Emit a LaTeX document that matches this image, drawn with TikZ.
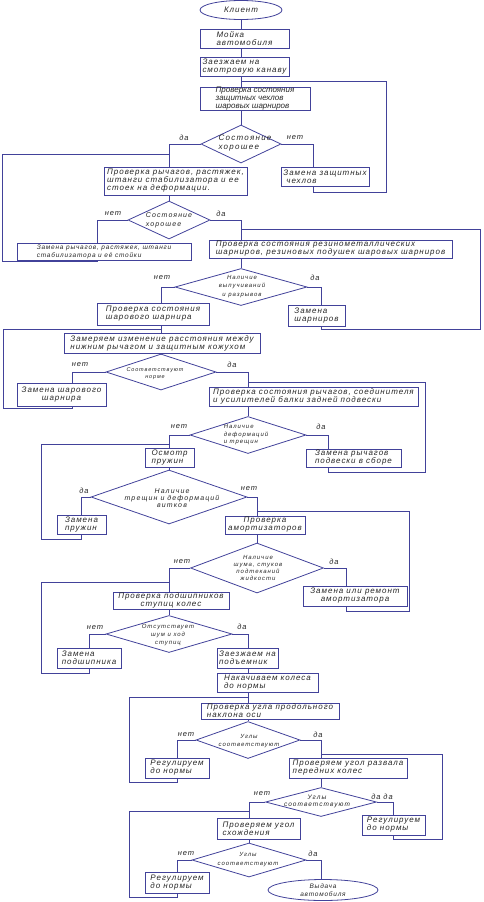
\documentclass[tikz,border=0pt]{standalone}
\usepackage{fontspec}
\setmainfont{Liberation Sans}
\newfontfamily\flowfont{Liberation Sans}[LetterSpace=12]
\newfontfamily\flowfontplain{Liberation Sans}
\newfontfamily\flowfontwide{Liberation Sans}[LetterSpace=16]
\usepackage{tikz}
\usetikzlibrary{shapes.geometric,positioning,calc}
\definecolor{flowblue}{HTML}{42429A}
\definecolor{flowtext}{HTML}{262626}

\begin{document}
\begin{tikzpicture}[x=1pt,y=-1pt,
  link/.style={flowblue, line width=0.8pt},
  boxfont/.style 2 args={font=\flowfont\itshape\fontsize{#1}{#2}\selectfont},
  dfont/.style 2 args={font=\flowfontwide\itshape\fontsize{#1}{#2}\selectfont},
  box/.style={draw=flowblue, line width=0.8pt, rectangle, inner xsep=1pt, inner ysep=0pt,
    text=flowtext, align=left, boxfont={8}{8}},
  decision/.style={draw=flowblue, line width=0.8pt, diamond, inner sep=0pt},
  dtext/.style={text=flowtext, inner sep=0pt, align=center, dfont={6}{7.5}},
  terminal/.style={draw=flowblue, line width=0.8pt, ellipse, inner sep=0pt,
    text=flowtext, align=center, boxfont={8}{8}},
  answer/.style={text=flowtext, inner sep=0pt, boxfont={7.5}{8}}]
\useasboundingbox (0,0) rectangle (483,902);

% Blocks
\node[terminal, minimum width=82, minimum height=19] (client) at (241,10) {Клиент};
\node[box, minimum width=89, minimum height=19] (wash) at (244.5,38.5) {Мойка\\автомобиля};
\node[box, minimum width=89, minimum height=19] (pit) at (244.5,66.5) {Заезжаем на\\смотровую канаву};
\node[box, font=\flowfontplain\itshape\fontsize{8}{7.6}\selectfont, minimum width=110, minimum height=23] (boots) at (255,98.5) {Проверка состояния\\защитных чехлов\\шаровых шарниров};
\node[decision, minimum width=80, minimum height=38] (qboots) at (241,144) {};
\node[dtext, align=left, dfont={8}{9}] (qbootst) at (245,143) {Состояние\\хорошее};
\node[box, minimum width=143, minimum height=28] (levers) at (175.5,181) {Проверка рычагов, растяжек,\\штанги стабилизатора и ее\\стоек на деформации.};
\node[box, minimum width=88, minimum height=19] (newboots) at (325,176.5) {Замена защитных\\\hspace*{3pt}чехлов};
\node[decision, minimum width=82, minimum height=38] (qlevers) at (169,220) {};
\node[dtext, align=left, dfont={7}{9}] (qleverst) at (169,220) {Состояние\\хорошее};
\node[box, boxfont={6.5}{8}, minimum width=174, minimum height=17] (newlevers) at (104,251.5) {Замена рычагов, растяжек, штанги\\стабилизатора и её стойки};
\node[box, minimum width=243, minimum height=18] (rubber) at (330.5,249) {Проверка состояния резинометаллических\\шарниров, резиновых подушек шаровых шарниров};
\node[decision, minimum width=132, minimum height=37] (qrubber) at (241,287) {};
\node[dtext, dfont={6}{8.5}] (qrubbert) at (242,286.5) {Наличие\\выпучиваний\\и разрывов};
\node[box, minimum width=112, minimum height=22] (joint) at (153,314) {Проверка состояния\\шарового шарнира};
\node[box, minimum width=57, minimum height=21] (newrubber) at (316.5,315.5) {Замена\\шарниров};
\node[box, minimum width=196, minimum height=20] (gap) at (162,343) {Замеряем изменение расстояния между\\нижним рычагом и защитным кожухом};
\node[decision, minimum width=110, minimum height=36] (qgap) at (161,372) {};
\node[dtext, dfont={5.5}{7}] (qgapt) at (155,373.5) {Соответствуют\\норме};
\node[box, align=center, minimum width=89, minimum height=23] (newjoint) at (61.5,394.5) {Замена шарового\\шарнира};
\node[box, minimum width=209, minimum height=19] (rear) at (313.5,396.5) {Проверка состояния рычагов, соединителя\\и усилителей балки задней подвески};
\node[decision, minimum width=116, minimum height=37] (qrear) at (248,435) {};
\node[dtext, align=left] (qreart) at (246,435) {Наличие\\деформаций\\и трещин};
\node[box, minimum width=49, minimum height=19] (springs) at (169.5,457.5) {Осмотр\\пружин};
\node[box, minimum width=95, minimum height=18] (newrear) at (353.5,458) {Замена рычагов\\подвески в сборе};
\node[decision, minimum width=156, minimum height=54] (qsprings) at (169,497) {};
\node[dtext, dfont={7}{7}] (qspringst) at (172,498.5) {Наличие\\трещин и деформаций\\витков};
\node[box, minimum width=49, minimum height=19] (newsprings) at (81.5,524.5) {Замена\\пружин};
\node[box, align=center, minimum width=80, minimum height=18] (shocks) at (265,525) {Проверка\\амортизаторов};
\node[decision, minimum width=133, minimum height=50] (qshocks) at (257,568) {};
\node[dtext, dfont={6}{7}] (qshockst) at (258,567.5) {Наличие\\шума, стуков\\подтеканий\\жидкости};
\node[box, align=center, minimum width=116, minimum height=17] (hubs) at (171,600.5) {Проверка подшипников\\ступиц колес};
\node[box, align=center, minimum width=104, minimum height=20] (newshocks) at (355,596) {Замена или ремонт\\амортизатора};
\node[decision, minimum width=126, minimum height=37] (qhubs) at (169,634) {};
\node[dtext, dfont={6}{8}] (qhubst) at (168,635) {Отсутствует\\шум и ход\\ступиц};
\node[box, minimum width=64, minimum height=20] (newbearing) at (89,658) {Замена\\подшипника};
\node[box, minimum width=61, minimum height=20] (lift) at (247.5,658) {Заезжаем на\\подъемник};
\node[box, minimum width=101, minimum height=19] (tyres) at (267.5,682.5) {Накачиваем колеса\\до нормы};
\node[box, minimum width=138, minimum height=16] (caster) at (270,711) {Проверка угла продольного\\наклона оси};
\node[decision, minimum width=104, minimum height=37] (qcaster) at (248,740) {};
\node[dtext, dfont={6}{8}] (qcastert) at (249,741) {Углы\\соответствуют};
\node[box, minimum width=64, minimum height=20] (adjcaster) at (177,768) {Регулируем\\до нормы};
\node[box, minimum width=118, minimum height=20] (camber) at (348,768) {Проверяем угол развала\\передних колес};
\node[decision, minimum width=111, minimum height=29] (qcamber) at (321,802) {};
\node[dtext, dfont={6.5}{7}] (qcambert) at (317,801.5) {Углы\\соответствуют};
\node[box, minimum width=63, minimum height=20] (adjcamber) at (393.5,825) {Регулируем\\до нормы};
\node[box, minimum width=83, minimum height=21] (toe) at (258.5,828.5) {Проверяем угол\\схождения};
\node[decision, minimum width=114, minimum height=34] (qtoe) at (249,860) {};
\node[dtext, dfont={6}{9}] (qtoet) at (248,859.5) {Углы\\соответствуют};
\node[box, minimum width=64, minimum height=21] (adjtoe) at (177,882.5) {Регулируем\\до нормы};
\node[terminal, boxfont={6.5}{8}, minimum width=110, minimum height=21] (release) at (323,890) {Выдача\\автомобиля};

% Answers
\node[answer] (yes1) at (184,138) {да};
\node[answer] (no1) at (295,138) {нет};
\node[answer] (no2) at (113,214) {нет};
\node[answer] (yes2) at (221,214) {да};
\node[answer] (no3) at (162,278) {нет};
\node[answer] (yes3) at (315,278) {да};
\node[answer] (no4) at (80,365) {нет};
\node[answer] (yes4) at (232,365) {да};
\node[answer] (no5) at (179,427) {нет};
\node[answer] (yes5) at (321,427) {да};
\node[answer] (yes6) at (84,491) {да};
\node[answer] (no6) at (249,489) {нет};
\node[answer] (no7) at (182,562) {нет};
\node[answer] (yes7) at (334,562) {да};
\node[answer] (no8) at (95,628) {нет};
\node[answer] (yes8) at (242,627) {да};
\node[answer] (no9) at (186,735) {нет};
\node[answer] (yes9) at (318,735) {да};
\node[answer] (no10) at (262,794) {нет};
\node[answer] (yes10) at (382,797) {да да};
\node[answer] (no11) at (186,854) {нет};
\node[answer] (yes11) at (313,854) {да};

% Loop corners
\coordinate (loopA) at (386,192);  \coordinate (joinA) at (241,81);
\coordinate (loopB) at (2,261);    \coordinate (joinB) at (169,154);
\coordinate (loopC) at (480,329);  \coordinate (joinC) at (241,229);
\coordinate (loopD) at (3,408);    \coordinate (joinD) at (161,329);
\coordinate (loopE) at (425,472);  \coordinate (joinE) at (248,382);
\coordinate (loopF) at (41,539);   \coordinate (joinF) at (169,444);
\coordinate (loopG) at (409,611);  \coordinate (joinG) at (257,511);
\coordinate (loopH) at (41,673);   \coordinate (joinH) at (169,582);
\coordinate (loopI) at (129,782);  \coordinate (joinI) at (248,697);
\coordinate (loopJ) at (442,839);  \coordinate (joinJ) at (321,754);
\coordinate (loopK) at (129,897);  \coordinate (joinK) at (249,811);

% Main line
\draw[link] (client.south) -- (client.south |- wash.north);
\draw[link] (wash.south -| client) -- (pit.north -| client);
\draw[link] (pit.south -| client) -- (boots.north -| client);
\draw[link] (boots.south -| qboots) -- (qboots.north);
\draw[link] (levers.south -| qlevers) -- (qlevers.north);
\draw[link] (rubber.south -| qrubber) -- (qrubber.north);
\draw[link] (joint.south -| qgap) -- (gap.north -| qgap);
\draw[link] (gap.south -| qgap) -- (qgap.north);
\draw[link] (rear.south -| qrear) -- (qrear.north);
\draw[link] (springs.south -| qsprings) -- (qsprings.north);
\draw[link] (shocks.south -| qshocks) -- (qshocks.north);
\draw[link] (hubs.south -| qhubs) -- (qhubs.north);
\draw[link] (lift.south -| qcaster) -- (tyres.north -| qcaster);
\draw[link] (tyres.south -| qcaster) -- (caster.north -| qcaster);
\draw[link] (caster.south -| qcaster) -- (qcaster.north);
\draw[link] (camber.south -| qcamber) -- (qcamber.north);
\draw[link] (toe.south -| qtoe) -- (qtoe.north);

% Branches
\draw[link] (qboots.west) -| (levers.north -| qlevers);
\draw[link] (qboots.east) -| ([xshift=-12]newboots.north);
\draw[link] (qlevers.west) -| ([xshift=-7]newlevers.north);
\draw[link] (qlevers.east) -| (rubber.north -| qboots);
\draw[link] (qrubber.west) -| (joint.north -| qgap);
\draw[link] (qrubber.east) -| ([xshift=4.5]newrubber.north);
\draw[link] (qgap.west) -| ([xshift=10.5]newjoint.north);
\draw[link] (qgap.east) -| (rear.north -| qrear);
\draw[link] (qrear.west) -| (springs.north -| qsprings);
\draw[link] (qrear.east) -| ([xshift=-25.5]newrear.north);
\draw[link] (qsprings.west) -| (newsprings.north);
\draw[link] (qsprings.east) -| (shocks.north -| qshocks);
\draw[link] (qshocks.west) -| (hubs.north -| qhubs);
\draw[link] (qshocks.east) -| ([xshift=-9]newshocks.north);
\draw[link] (qhubs.west) -| (newbearing.north);
\draw[link] (qhubs.east) -| (lift.north -| qcaster);
\draw[link] (qcaster.west) -| (adjcaster.north);
\draw[link] (qcaster.east) -| (camber.north -| qcamber);
\draw[link] (qcamber.west) -| (toe.north -| qtoe);
\draw[link] (qcamber.east) -| (adjcamber.north);
\draw[link] (qtoe.west) -| (adjtoe.north);
\draw[link] (qtoe.east) -| ([xshift=-2]release.north);

% Returns
\draw[link] ([xshift=-12]newboots.south) |- (loopA) |- (joinA);
\draw[link] ([xshift=-7]newlevers.south) |- (loopB) |- (joinB);
\draw[link] ([xshift=4.5]newrubber.south) |- (loopC) |- (joinC);
\draw[link] ([xshift=10.5]newjoint.south) |- (loopD) |- (joinD);
\draw[link] ([xshift=-25.5]newrear.south) |- (loopE) |- (joinE);
\draw[link] (newsprings.south) |- (loopF) |- (joinF);
\draw[link] ([xshift=-9]newshocks.south) |- (loopG) |- (joinG);
\draw[link] (newbearing.south) |- (loopH) |- (joinH);
\draw[link] (adjcaster.south) |- (loopI) |- (joinI);
\draw[link] (adjcamber.south) |- (loopJ) |- (joinJ);
\draw[link] (adjtoe.south) |- (loopK) |- (joinK);
\end{tikzpicture}
\end{document}
